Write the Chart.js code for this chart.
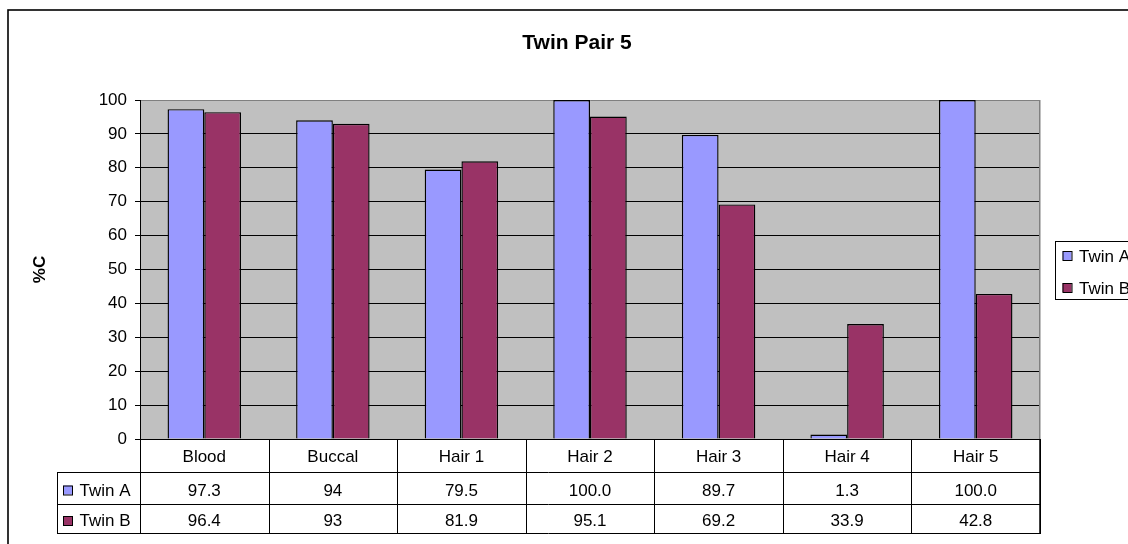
<!DOCTYPE html>
<html>
<head>
<meta charset="utf-8">
<title>Twin Pair 5</title>
<script src="https://cdn.jsdelivr.net/npm/chart.js@4/dist/chart.umd.min.js"></script>
<style>
  html, body { margin: 0; padding: 0; background: #fff; overflow: hidden; }
  canvas { display: block; }
</style>
</head>
<body>
<canvas id="c" width="1128" height="544"></canvas>
<script>
// ---- data ----
const chartTitle = 'Twin Pair 5';
const axisTitle = '%C';
const categories = ['Blood', 'Buccal', 'Hair 1', 'Hair 2', 'Hair 3', 'Hair 4', 'Hair 5'];
const seriesNames = ['Twin A', 'Twin B'];
const twinAText = ['97.3', '94', '79.5', '100.0', '89.7', '1.3', '100.0'];
const twinBText = ['96.4', '93', '81.9', '95.1', '69.2', '33.9', '42.8'];
const twinA = twinAText.map(Number);
const twinB = twinBText.map(Number);
const tableText = [twinAText, twinBText];
const seriesColors = ['#9999FF', '#993366'];
const yMin = 0, yMax = 100, yStep = 10;

// ---- styling ----
const FONT = '"Liberation Sans", Arial, Helvetica, sans-serif';
const TEXT_SIZE = 17;
const tableRows = [0, 33, 65, 94];   // row edges below the plot area

function keySquare(ctx, x, cy, color) {
  ctx.fillStyle = color;
  ctx.fillRect(x, cy - 4.5, 9, 9);
  ctx.strokeStyle = '#000';
  ctx.lineWidth = 1;
  ctx.strokeRect(x + 0.5, cy - 4.5 + 0.5, 9, 9);
}

// Background, plot fill, title, axis title, data table, legend and frame
const decorations = {
  id: 'decorations',
  beforeDraw(chart) {
    const { ctx, chartArea: a } = chart;
    ctx.save();
    ctx.fillStyle = '#fff';
    ctx.fillRect(0, 0, chart.width, chart.height);
    ctx.fillStyle = '#C0C0C0';
    ctx.fillRect(a.left, a.top, a.right - a.left, a.bottom - a.top);
    ctx.restore();
  },
  afterDraw(chart) {
    const { ctx, chartArea: a } = chart;
    const xs = chart.scales.x;
    const half = (xs.getPixelForValue(1) - xs.getPixelForValue(0)) / 2;
    ctx.save();

    // right edge of plot area
    ctx.strokeStyle = '#808080';
    ctx.lineWidth = 1.5;
    ctx.beginPath();
    ctx.moveTo(a.right - 0.25, a.top);
    ctx.lineTo(a.right - 0.25, a.bottom);
    ctx.stroke();

    // chart title
    ctx.fillStyle = '#000';
    ctx.font = 'bold 21px ' + FONT;
    ctx.textAlign = 'center';
    ctx.textBaseline = 'alphabetic';
    ctx.fillText(chartTitle, 577, 49);

    // value axis title
    ctx.save();
    ctx.translate(44.5, (a.top + a.bottom) / 2);
    ctx.rotate(-Math.PI / 2);
    ctx.font = 'bold ' + TEXT_SIZE + 'px ' + FONT;
    ctx.fillText(axisTitle, 0, 0);
    ctx.restore();

    // data table grid
    const r = tableRows.map(v => a.bottom + v);
    const keyLeft = 57;
    ctx.strokeStyle = '#000';
    ctx.lineWidth = 1;
    ctx.beginPath();
    ctx.moveTo(a.left, r[0] + 0.5); ctx.lineTo(a.right, r[0] + 0.5);
    for (let k = 1; k < r.length; k++) {
      ctx.moveTo(keyLeft, r[k] + 0.5);
      ctx.lineTo(a.right, r[k] + 0.5);
    }
    ctx.moveTo(keyLeft + 0.5, r[1]); ctx.lineTo(keyLeft + 0.5, r[3] + 1);
    for (let i = 0; i <= categories.length; i++) {
      const px = Math.round(xs.getPixelForValue(i) - half) + 0.5;
      ctx.moveTo(px, r[0]);
      ctx.lineTo(px, r[3] + 1);
    }
    ctx.stroke();
    ctx.lineWidth = 1.5;
    ctx.beginPath();
    ctx.moveTo(a.right, r[0]); ctx.lineTo(a.right, r[3] + 1);
    ctx.stroke();

    // data table text
    ctx.font = TEXT_SIZE + 'px ' + FONT;
    ctx.fillStyle = '#000';
    ctx.textAlign = 'center';
    categories.forEach((c, i) => {
      ctx.fillText(c, xs.getPixelForValue(i), (r[0] + r[1]) / 2 + 6.5);
    });
    tableText.forEach((row, s) => {
      const cy = (r[s + 1] + r[s + 2]) / 2 + 1.5;
      row.forEach((t, i) => {
        ctx.fillStyle = '#000';
        ctx.textAlign = 'center';
        ctx.fillText(t, xs.getPixelForValue(i), cy + 6);
      });
      keySquare(ctx, 63, cy + 0.5, seriesColors[s]);
      ctx.fillStyle = '#000';
      ctx.textAlign = 'left';
      ctx.fillText(seriesNames[s], 79.5, cy + 6);
    });

    // legend
    ctx.fillStyle = '#fff';
    ctx.fillRect(1055, 241, 200, 58);
    ctx.strokeStyle = '#000';
    ctx.lineWidth = 1;
    ctx.strokeRect(1055.5, 241.5, 200, 58);
    seriesNames.forEach((n, s) => {
      const cy = 255.5 + s * 32;
      keySquare(ctx, 1062.5, cy, seriesColors[s]);
      ctx.fillStyle = '#000';
      ctx.textAlign = 'left';
      ctx.font = TEXT_SIZE + 'px ' + FONT;
      ctx.fillText(n, 1079, cy + 6);
    });

    // outer frame
    ctx.strokeStyle = '#000';
    ctx.lineWidth = 1.6;
    ctx.strokeRect(8, 10, 1300, 700);
    ctx.restore();
  }
};

new Chart(document.getElementById('c'), {
  type: 'bar',
  data: {
    labels: categories,
    datasets: [
      { label: seriesNames[0], data: twinA, backgroundColor: seriesColors[0] },
      { label: seriesNames[1], data: twinB, backgroundColor: seriesColors[1] }
    ]
  },
  options: {
    responsive: false,
    animation: false,
    events: [],
    layout: { padding: { left: 0, top: 100, right: 88, bottom: 105 } },
    datasets: {
      bar: {
        borderColor: '#000',
        borderWidth: 1.4,
        categoryPercentage: 2 / 3.5,
        barPercentage: 1
      }
    },
    plugins: {
      legend: { display: false },
      title: { display: false },
      tooltip: { enabled: false }
    },
    scales: {
      x: { display: false },
      y: {
        min: yMin,
        max: yMax,
        afterFit(scale) { scale.width = 140; },
        ticks: {
          stepSize: yStep,
          padding: 8,
          color: '#000',
          font: { family: FONT, size: TEXT_SIZE }
        },
        grid: {
          color: ctx => (ctx.tick && ctx.tick.value === yMax) ? '#808080' : '#000',
          lineWidth: 1,
          tickLength: 5,
          tickColor: '#000',
          drawTicks: true
        },
        border: { display: true, color: '#000', width: 1 }
      }
    }
  },
  plugins: [decorations]
});
</script>
</body>
</html>
